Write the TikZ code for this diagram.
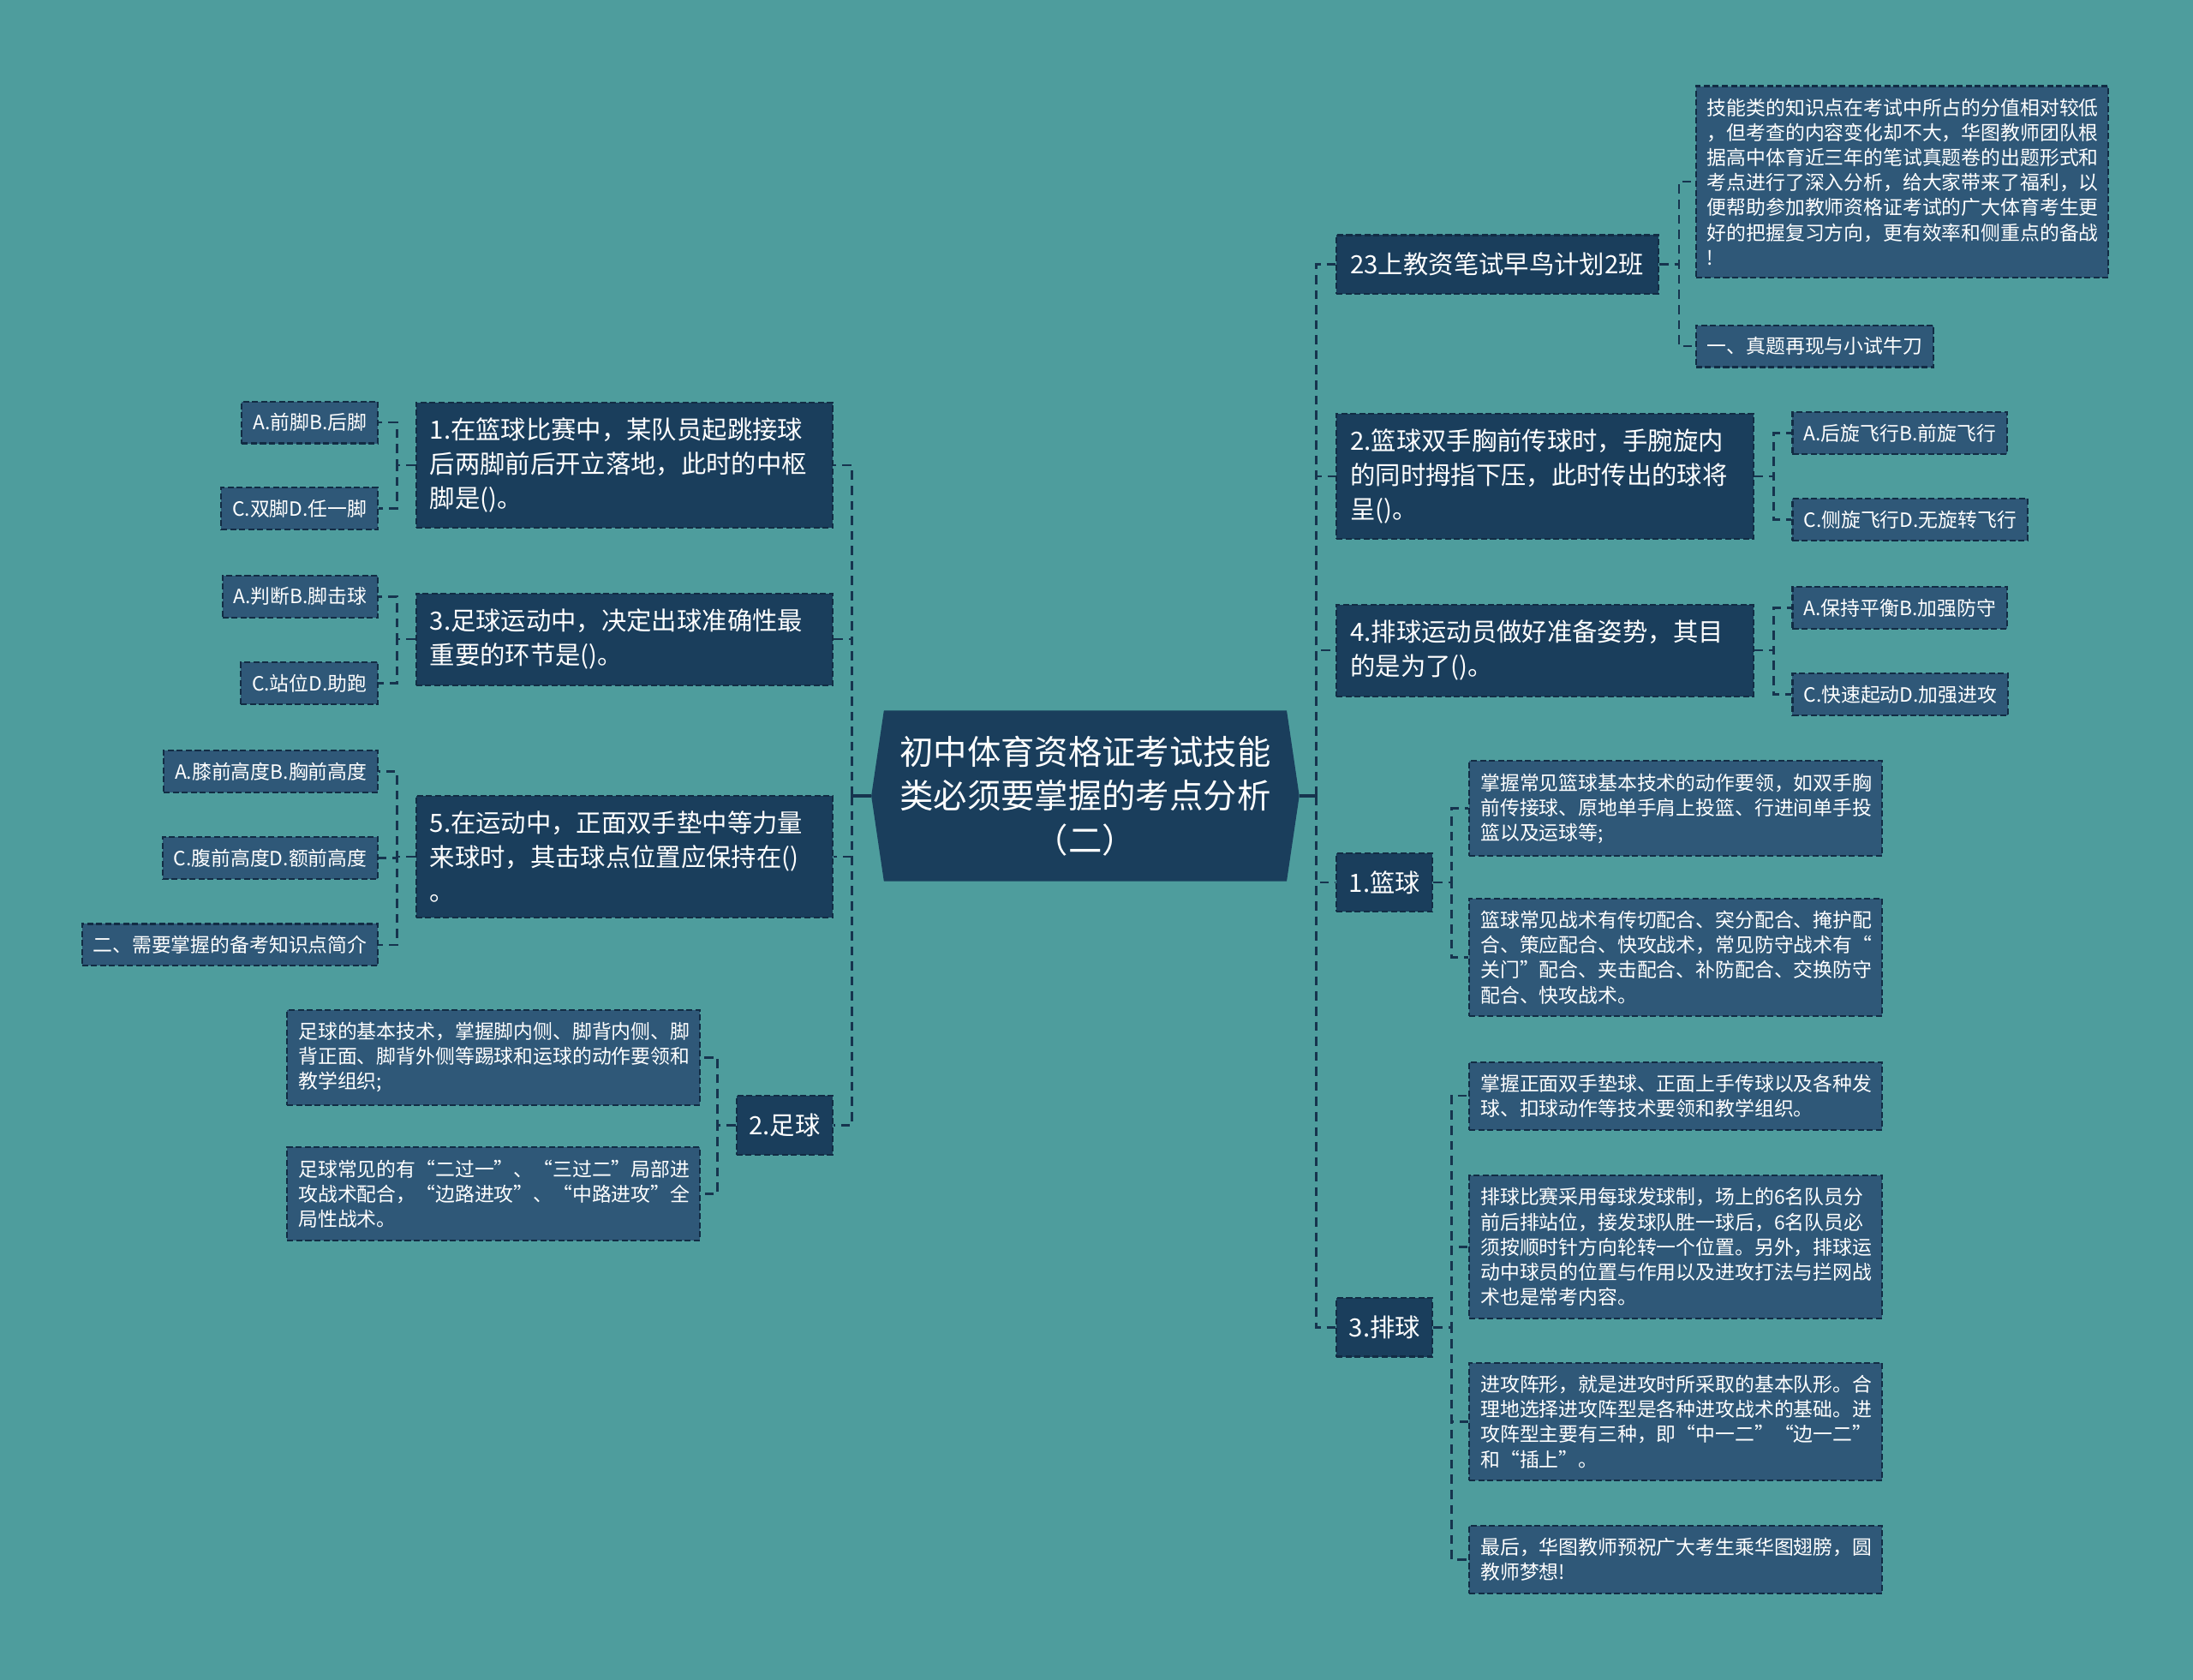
\documentclass[tikz,border=0pt]{standalone}
\usepackage{fontspec}
\setmainfont{Noto Sans CJK SC}
\usepackage{xcolor}
\usepackage{tikz}
\usetikzlibrary{math}

\definecolor{bgteal}{RGB}{78,157,157}
\definecolor{topicfill}{RGB}{26,62,92}
\definecolor{notefill}{RGB}{47,88,120}
\definecolor{boxline}{RGB}{18,44,68}
\definecolor{linkcol}{RGB}{22,52,78}

\tikzset{
	box/.style={draw=boxline,line width=0.6pt,dash pattern=on 2pt off 1pt,text=white},
	topic/.style={box,fill=topicfill,align=left,font=\fontsize{8.35pt}{11.3pt}\selectfont,
		inner xsep=4.6pt,inner ysep=5.2pt,minimum height=19.4pt,text width=129.2pt},
	tag/.style={box,fill=topicfill,align=center,font=\fontsize{8.35pt}{11.3pt}\selectfont,
		inner xsep=2pt,inner ysep=5.2pt,minimum height=19.4pt,minimum width=31.9pt},
	note/.style={box,fill=notefill,align=left,font=\fontsize{6.5pt}{8.3pt}\selectfont,
		inner xsep=3.7pt,inner ysep=4.1pt,text width=129.6pt},
	opt/.style={box,fill=notefill,font=\fontsize{6.5pt}{8.3pt}\selectfont,
		inner xsep=3.7pt,inner ysep=3.6pt,minimum height=13.9pt},
	link/.style={draw=linkcol,line width=0.7pt,dash pattern=on 3pt off 2pt},
	stem/.style={draw=linkcol,line width=0.9pt},
}

\begin{document}
\begin{tikzpicture}[x=0.016327cm,y=-0.016327cm]
\tikzmath{
	\rx = 941; \lx = 609;
	\my = 569;
}
\fill[bgteal] (0,0) rectangle (1568,1201);
\useasboundingbox (0,0) rectangle (1568,1201);
%
\coordinate (rtip) at (929,\my);
\coordinate (ltip) at (623,\my);
\coordinate (rj) at (\rx,\my);
\coordinate (lj) at (\lx,\my);
\fill[topicfill] plot[] coordinates {(ltip) (632,508) (920,508) (rtip) (920,630) (632,630) (ltip)};
\node[text=white,align=center,inner sep=0pt,
	font=\fontsize{11.2pt}{14.6pt}\selectfont,
	minimum width=133.3pt,minimum height=56.5pt] (root) at (776,\my)
	{初中体育资格证考试技能\\类必须要掌握的考点分析\\（二）};
\draw[stem] (rtip) -- (rj);
\draw[stem] (ltip) -- (lj);
%
% right side
\node[topic,anchor=west,text width=97.7pt] (r0) at (955,189) {23上教资笔试早鸟计划2班};
\node[note,anchor=west] (r0a) at (1212,130) {技能类的知识点在考试中所占的分值相对较低\\，但考查的内容变化却不大，华图教师团队根\\据高中体育近三年的笔试真题卷的出题形式和\\考点进行了深入分析，给大家带来了福利，以\\便帮助参加教师资格证考试的广大体育考生更\\好的把握复习方向，更有效率和侧重点的备战\\!};
\node[opt,anchor=west] (r0b) at (1212,247.5) {一、真题再现与小试牛刀};
\node[topic,anchor=west] (r1) at (955,340.5) {2.篮球双手胸前传球时，手腕旋内\\的同时拇指下压，此时传出的球将\\呈()。};
\node[opt,anchor=west] (r1a) at (1281,309.5) {A.后旋飞行B.前旋飞行};
\node[opt,anchor=west] (r1b) at (1281,371.5) {C.侧旋飞行D.无旋转飞行};
\node[topic,anchor=west] (r2) at (955,465) {4.排球运动员做好准备姿势，其目\\的是为了()。};
\node[opt,anchor=west] (r2a) at (1281,434.5) {A.保持平衡B.加强防守};
\node[opt,anchor=west] (r2b) at (1281,496.5) {C.快速起动D.加强进攻};
\node[tag,anchor=west] (r3) at (955,631) {1.篮球};
\node[note,anchor=west] (r3a) at (1050,578) {掌握常见篮球基本技术的动作要领，如双手胸\\前传接球、原地单手肩上投篮、行进间单手投\\篮以及运球等;};
\node[note,anchor=west] (r3b) at (1050,684.5) {篮球常见战术有传切配合、突分配合、掩护配\\合、策应配合、快攻战术，常见防守战术有“\\关门”配合、夹击配合、补防配合、交换防守\\配合、快攻战术。};
\node[tag,anchor=west] (r4) at (955,949) {3.排球};
\node[note,anchor=west] (r4a) at (1050,783.5) {掌握正面双手垫球、正面上手传球以及各种发\\球、扣球动作等技术要领和教学组织。};
\node[note,anchor=west] (r4b) at (1050,891.5) {排球比赛采用每球发球制，场上的6名队员分\\前后排站位，接发球队胜一球后，6名队员必\\须按顺时针方向轮转一个位置。另外，排球运\\动中球员的位置与作用以及进攻打法与拦网战\\术也是常考内容。};
\node[note,anchor=west] (r4c) at (1050,1016.5) {进攻阵形，就是进攻时所采取的基本队形。合\\理地选择进攻阵型是各种进攻战术的基础。进\\攻阵型主要有三种，即“中一二”“边一二”\\和“插上”。};
\node[note,anchor=west] (r4d) at (1050,1115) {最后，华图教师预祝广大考生乘华图翅膀，圆\\教师梦想!};
%
% left side
\node[topic,anchor=east] (l1) at (596,332.5) {1.在篮球比赛中，某队员起跳接球\\后两脚前后开立落地，此时的中枢\\脚是()。};
\node[opt,anchor=east] (l1a) at (271,302) {A.前脚B.后脚};
\node[opt,anchor=east] (l1b) at (271,363.5) {C.双脚D.任一脚};
\node[topic,anchor=east] (l2) at (596,457) {3.足球运动中，决定出球准确性最\\重要的环节是()。};
\node[opt,anchor=east] (l2a) at (271,426.5) {A.判断B.脚击球};
\node[opt,anchor=east] (l2b) at (271,488.5) {C.站位D.助跑};
\node[topic,anchor=east] (l3) at (596,612.5) {5.在运动中，正面双手垫中等力量\\来球时，其击球点位置应保持在()\\。};
\node[opt,anchor=east] (l3a) at (271,551.5) {A.膝前高度B.胸前高度};
\node[opt,anchor=east] (l3b) at (271,613.5) {C.腹前高度D.额前高度};
\node[opt,anchor=east] (l3c) at (271,675.5) {二、需要掌握的备考知识点简介};
\node[tag,anchor=east] (l4) at (596,804.5) {2.足球};
\node[note,anchor=east] (l4a) at (501,756) {足球的基本技术，掌握脚内侧、脚背内侧、脚\\背正面、脚背外侧等踢球和运球的动作要领和\\教学组织;};
\node[note,anchor=east] (l4b) at (501,853.5) {足球常见的有“二过一”、“三过二”局部进\\攻战术配合，“边路进攻”、“中路进攻”全\\局性战术。};
%
% trunk links
\draw[link] (rj) |- (r0.west);
\draw[link] (rj) |- (r1.west);
\draw[link] (rj) |- (r2.west);
\draw[link] (rj) |- (r3.west);
\draw[link] (rj) |- (r4.west);
\draw[link] (lj) |- (l1.east);
\draw[link] (lj) |- (l2.east);
\draw[link] (lj) |- (l3.east);
\draw[link] (lj) |- (l4.east);
%
\draw[link] (r0.east) -- ++(14,0) |- (r0a.west);
\draw[link] (r0.east) -- ++(14,0) |- (r0b.west);
\draw[link] (r1.east) -- ++(14,0) |- (r1a.west);
\draw[link] (r1.east) -- ++(14,0) |- (r1b.west);
\draw[link] (r2.east) -- ++(14,0) |- (r2a.west);
\draw[link] (r2.east) -- ++(14,0) |- (r2b.west);
\draw[link] (r3.east) -- ++(13,0) |- (r3a.west);
\draw[link] (r3.east) -- ++(13,0) |- (r3b.west);
\draw[link] (r4.east) -- ++(13,0) |- (r4a.west);
\draw[link] (r4.east) -- ++(13,0) |- (r4b.west);
\draw[link] (r4.east) -- ++(13,0) |- (r4c.west);
\draw[link] (r4.east) -- ++(13,0) |- (r4d.west);
\draw[link] (l1.west) -- ++(-13,0) |- (l1a.east);
\draw[link] (l1.west) -- ++(-13,0) |- (l1b.east);
\draw[link] (l2.west) -- ++(-13,0) |- (l2a.east);
\draw[link] (l2.west) -- ++(-13,0) |- (l2b.east);
\draw[link] (l3.west) -- ++(-13,0) |- (l3a.east);
\draw[link] (l3.west) -- ++(-13,0) |- (l3b.east);
\draw[link] (l3.west) -- ++(-13,0) |- (l3c.east);
\draw[link] (l4.west) -- ++(-13,0) |- (l4a.east);
\draw[link] (l4.west) -- ++(-13,0) |- (l4b.east);
\end{tikzpicture}
\end{document}
